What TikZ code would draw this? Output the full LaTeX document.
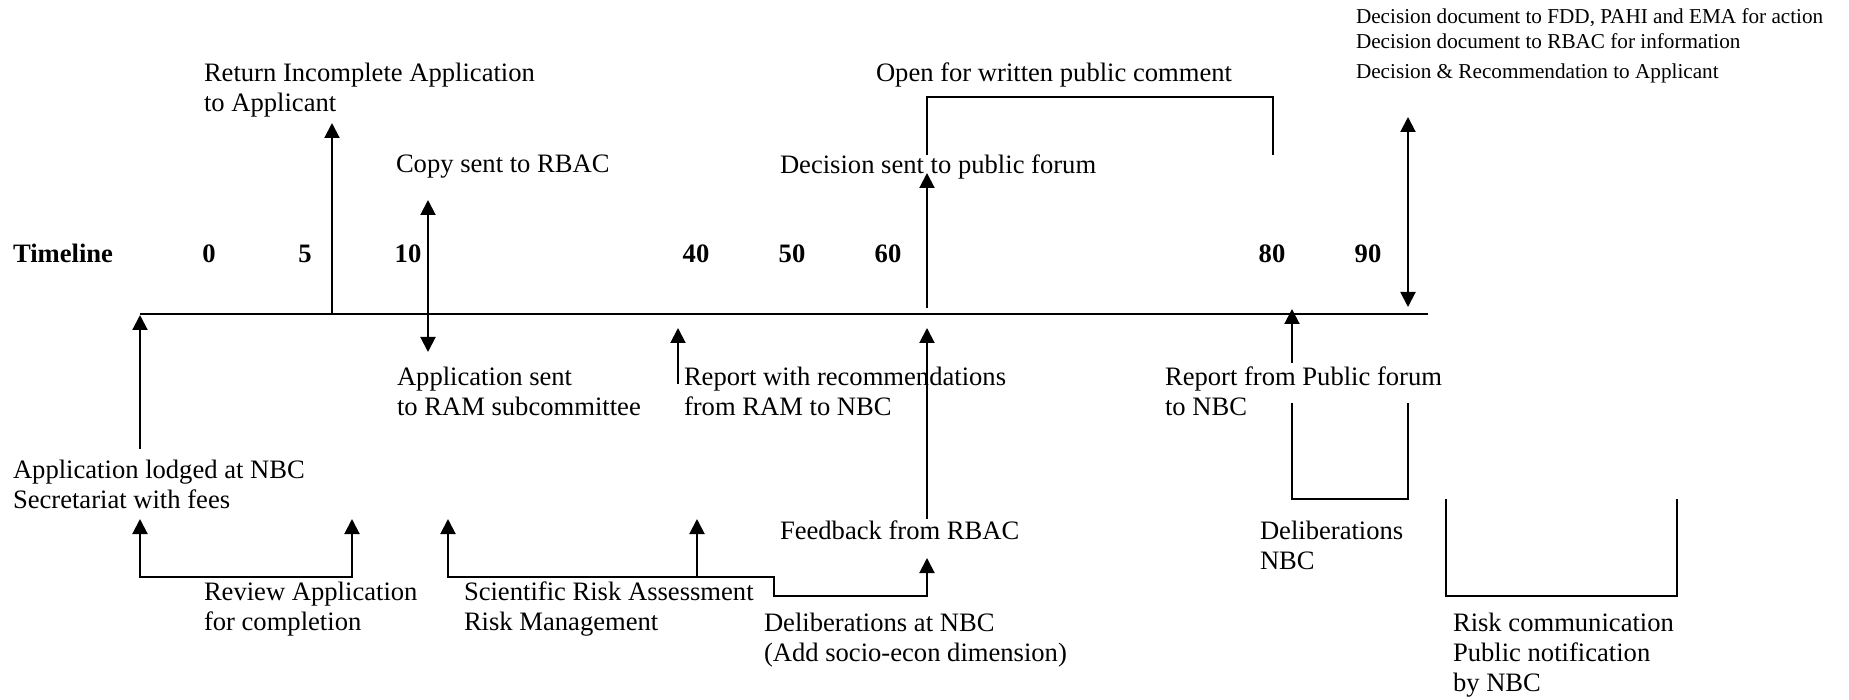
\documentclass[tikz,border=0pt]{standalone}
\usepackage{fontspec}
\setmainfont{Liberation Serif}
\usetikzlibrary{arrows.meta}

\begin{document}
\begin{tikzpicture}[x=0.5pt, y=-0.5pt, line width=1pt,
	every node/.style={font=\fontsize{13.3}{15}\selectfont, inner sep=0pt, anchor=north west, align=left},
	num/.style={font=\fontsize{13.3}{15}\selectfont\bfseries, anchor=base},
	small/.style={font=\fontsize{10.6}{12.5}\selectfont},
	>={Triangle[length=7.5pt, width=7.5pt]}]
	\useasboundingbox (0,0) rectangle (1849,700);
	% the time axis and its day marks
	\coordinate (ax0) at (140,314);
	\coordinate (ax1) at (1428,314);
	\draw[line width=1.2pt] (ax0) -- (ax1);
	\node[num, anchor=base west] (tl) at (12,263) {Timeline};
	\foreach \d/\x in {0/209, 5/305, 10/408, 40/696, 50/792, 60/888, 80/1272, 90/1368}
		\node[num] (d\d) at (\x,263) {\d};
	% events above the axis
	\node (ret) at (203,62) {Return Incomplete Application\\to Applicant};
	\node (copy) at (395,154) {Copy sent to RBAC};
	\node (pubsent) at (779,154) {Decision sent to public forum};
	\node (open) at (875,62) {Open for written public comment};
	\node[small] (docs) at (1355,8) {Decision document to FDD, PAHI and EMA for action\\Decision document to RBAC for information\\[2.5pt]Decision \& Recommendation to Applicant};
	\coordinate (retA) at (332,314);
	\coordinate (retB) at (332,123);
	\coordinate (copyA) at (428,200);
	\coordinate (copyB) at (428,352);
	\coordinate (pubA) at (927,308);
	\coordinate (pubB) at (927,173);
	\coordinate (openA) at (927,155);
	\coordinate (openB) at (1273,155);
	\coordinate (docA) at (1408,117);
	\coordinate (docB) at (1408,307);
	\draw[->] (retA) -- (retB);
	\draw[<->] (copyA) -- (copyB);
	\draw[->] (pubA) -- (pubB);
	\draw (openA) |- (1100,97) -| (openB);
	\draw[<->] (docA) -- (docB);
	% events below the axis
	\node (appsent) at (396,366) {Application sent\\to RAM subcommittee};
	\node (report) at (683,366) {Report with recommendations\\from RAM to NBC};
	\node (forum) at (1164,366) {Report from Public forum\\to NBC};
	\node (lodged) at (12,459) {Application lodged at NBC\\Secretariat with fees};
	\node (feedback) at (779,520) {Feedback from RBAC};
	\node (delib) at (1259,520) {Deliberations\\NBC};
	\node (review) at (203,581) {Review Application\\for completion};
	\node (sci) at (463,581) {Scientific Risk Assessment\\Risk Management};
	\node (delibNBC) at (763,612) {Deliberations at NBC\\(Add socio-econ dimension)};
	\node (riskcom) at (1452,612) {Risk communication\\Public notification\\by NBC};
	\coordinate (lodgeA) at (140,449);
	\coordinate (lodgeB) at (140,315);
	\coordinate (repA) at (678,384);
	\coordinate (repB) at (678,328);
	\coordinate (fbA) at (927,519);
	\coordinate (fbB) at (927,328);
	\coordinate (forA) at (1292,363);
	\coordinate (forB) at (1292,309);
	\draw[->] (lodgeA) -- (lodgeB);
	\draw[->] (repA) -- (repB);
	\draw[->] (fbA) -- (fbB);
	\draw[->] (forA) -- (forB);
	% brackets under the axis
	\coordinate (revA) at (140,519);
	\coordinate (revB) at (352,519);
	\draw[<->] (revA) |- (246,577) -| (revB);
	\coordinate (sciA) at (448,519);
	\coordinate (sciB) at (697,519);
	\coordinate (sciC) at (927,558);
	\draw[<->] (sciA) |- (774,577) -- (774,596) -| (sciC);
	\draw[->] (sciB |- 0,577) -- (sciB);
	\coordinate (delA) at (1292,403);
	\coordinate (delB) at (1408,403);
	\draw (delA) |- (1350,499) -| (delB);
	\coordinate (rcA) at (1446,499);
	\coordinate (rcB) at (1677,499);
	\draw (rcA) |- (1560,596) -| (rcB);
\end{tikzpicture}
\end{document}
